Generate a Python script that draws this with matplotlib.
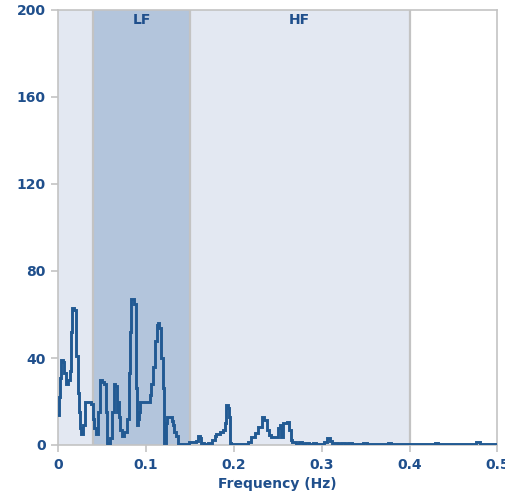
import matplotlib
matplotlib.use("Agg")
import matplotlib.pyplot as plt

# frequency breakpoints (Hz) and power values of the stepped spectrum
freq = [0.000, 0.001, 0.002, 0.003, 0.005, 0.007, 0.009, 0.011, 0.013, 0.014,
        0.015, 0.016, 0.018, 0.0205, 0.022, 0.023, 0.024, 0.025, 0.026, 0.028,
        0.030, 0.037, 0.039, 0.041, 0.043, 0.045, 0.047, 0.050, 0.052, 0.054,
        0.055, 0.057, 0.059, 0.061, 0.063, 0.065, 0.067, 0.068, 0.069, 0.070,
        0.072, 0.075, 0.078, 0.080, 0.082, 0.083, 0.086, 0.088, 0.089, 0.090,
        0.091, 0.092, 0.093, 0.103, 0.104, 0.106, 0.108, 0.110, 0.112, 0.113,
        0.115, 0.117, 0.119, 0.120, 0.1205, 0.122, 0.123, 0.124, 0.128, 0.130,
        0.131, 0.132, 0.134, 0.136, 0.149, 0.157, 0.159, 0.161, 0.163, 0.166,
        0.170, 0.175, 0.178, 0.180, 0.184, 0.188, 0.190, 0.1915, 0.193, 0.194,
        0.195, 0.196, 0.197, 0.198, 0.216, 0.220, 0.224, 0.228, 0.232, 0.2345,
        0.238, 0.240, 0.242, 0.245, 0.2505, 0.252, 0.254, 0.256, 0.260, 0.2625,
        0.2645, 0.266, 0.268, 0.271, 0.274, 0.277, 0.281, 0.285, 0.290, 0.294,
        0.303, 0.306, 0.309, 0.312, 0.318, 0.322, 0.326, 0.330, 0.334, 0.347,
        0.352, 0.375, 0.379, 0.429, 0.433, 0.476, 0.480, 0.500]
power = [14, 22, 31, 39, 38, 33, 28, 30, 34, 45,
         52, 63, 62, 41, 33, 24, 15, 8, 5, 9,
         20, 19, 12, 8, 5, 15, 30, 29, 28, 15,
         1, 0.5, 3, 15, 28, 27, 15, 20, 13, 7,
         4, 6, 12, 33, 52, 67, 65, 48, 26, 9,
         12, 15, 20, 20, 23, 28, 36, 48, 55, 56,
         54, 40, 26, 13, 1, 1, 10, 13, 13, 11,
         9, 6, 4, 0.5, 1.5, 2, 4, 3, 1, 0.5,
         1, 2.3, 4, 5, 6, 7, 10, 18.5, 17, 13,
         7, 1, 0.5, 0.4, 1.5, 3.8, 5.3, 8.4, 13, 11.5,
         7, 4.6, 3.8, 3.8, 7.7, 9.2, 3.8, 10, 10.7, 6.9,
         2.3, 1.5, 1.5, 0.5, 1.2, 0.6, 1.0, 0.5, 1.0, 0.5,
         1.2, 3.0, 1.8, 0.8, 0.5, 1.0, 0.5, 1.0, 0.4, 1.0,
         0.4, 0.9, 0.3, 0.9, 0.3, 1.5, 0.3, 0.3]

# frequency bands
bands = [(0.0, 0.04, ""), (0.04, 0.15, "LF"), (0.15, 0.4, "HF")]
band_colors = ["#e3e8f2", "#b3c5dc", "#e3e8f2"]

xticks = [0, 0.1, 0.2, 0.3, 0.4, 0.5]
xticklabels = ["0", "0.1", "0.2", "0.3", "0.4", "0.5"]
yticks = [0, 40, 80, 120, 160, 200]

blue = "#1f4f8c"
line_blue = "#225a93"
grey = "#c3c3c3"

fig = plt.figure(figsize=(5.05, 4.92), dpi=100)
ax = fig.add_axes([58.3 / 505, 1 - 445 / 492, 439 / 505, 435 / 492])

for (lo, hi, name), c in zip(bands, band_colors):
    ax.axvspan(lo, hi, color=c, lw=0, zorder=0)
    if name:
        ax.text((lo + hi) / 2, 198.5, name, ha="center", va="top",
                fontsize=10, fontweight="bold", color=blue)
for edge in [0.04, 0.15, 0.4]:
    ax.axvline(edge, color=grey, lw=1.6, zorder=1)

ax.plot(freq, power, drawstyle="steps-post", color=line_blue, lw=2.1,
        solid_joinstyle="miter", zorder=3)

ax.set_xlim(0, 0.5)
ax.set_ylim(0, 200)
ax.set_xticks(xticks)
ax.set_xticklabels(xticklabels)
ax.set_yticks(yticks)

for s in ax.spines.values():
    s.set_color(grey)
    s.set_linewidth(1.2)

ax.tick_params(axis="both", direction="out", color=grey, length=5, width=1.2,
               labelcolor=blue, labelsize=10)
ax.tick_params(axis="y", pad=4)
ax.tick_params(axis="x", pad=4.5)
for lab in ax.get_xticklabels() + ax.get_yticklabels():
    lab.set_fontweight("bold")

ax.set_xlabel("Frequency (Hz)", fontsize=10, fontweight="bold", color=blue,
              labelpad=3.5)

fig.savefig("out.png", dpi=100)
